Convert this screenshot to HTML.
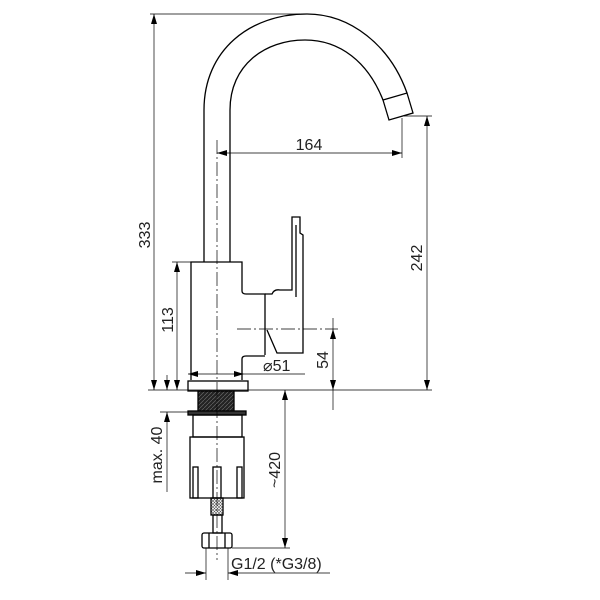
<!DOCTYPE html>
<html><head><style>body{margin:0;background:#fff}svg{display:block}</style></head><body>
<svg width="600" height="600" viewBox="0 0 600 600" xmlns="http://www.w3.org/2000/svg" font-family="Liberation Sans, sans-serif">
<defs>
<marker id="a" viewBox="0 0 10 6" refX="10" refY="3" markerWidth="10" markerHeight="6" orient="auto-start-reverse" markerUnits="userSpaceOnUse"><path d="M0,0 L10,3 L0,6 z" fill="#000"/></marker>
<pattern id="k" width="4" height="4" patternUnits="userSpaceOnUse"><rect width="4" height="4" fill="#222"/><path d="M0,4 L4,0" stroke="#666" stroke-width="0.7"/></pattern>
<pattern id="h" width="3" height="3" patternUnits="userSpaceOnUse"><path d="M0,3 L3,0 M0,0 L3,3" stroke="#555" stroke-width="0.6"/></pattern>
</defs>
<g fill="none" stroke="#000" stroke-width="1.3">
<path d="M204,262 V110 C204,50 250,14 307,14 C350,14 390,45 407,93"/>
<path d="M230,262 V110 C230,65 265,40 305,40 C340,40 368,62 383,100"/>
<path d="M383,100 L407,93 L413,113 L389,120 Z"/>
<path d="M191,380 V262 H242 V291 Q242,294 246,294 H265 V355"/>
<path d="M242,380 V359 Q242,356 246,356 H265"/>
<path d="M265,294 H272 Q274,289 280,290 H292 V217 H300 V233 L303,235 V353 H277 L267,330"/>
<line x1="296" y1="225" x2="296" y2="297"/>
<rect x="188" y="381" width="60" height="10"/>
<rect x="198" y="391" width="36" height="21" fill="url(#k)"/>
<rect x="188" y="411" width="58" height="4" fill="#333"/>
<rect x="193" y="415" width="49" height="22"/>
<rect x="190" y="437" width="54" height="61"/>
<rect x="193" y="467" width="5" height="31"/>
<rect x="213" y="467" width="8" height="31"/>
<rect x="237" y="467" width="5" height="31"/>
<rect x="211" y="498" width="12" height="17" fill="url(#h)"/>
<rect x="213" y="515" width="9" height="18"/>
<rect x="202" y="533" width="30" height="15" rx="2"/>
<line x1="209" y1="533" x2="209" y2="548"/><line x1="225" y1="533" x2="225" y2="548"/>
</g>
<g fill="none" stroke="#000" stroke-width="0.7">
<line x1="217" y1="140" x2="217" y2="560" stroke-dasharray="14,3,2,3"/>
<line x1="237" y1="329" x2="338" y2="329" stroke-dasharray="14,3,2,3"/>
<line x1="150" y1="14" x2="300" y2="14"/>
<line x1="148" y1="390" x2="432" y2="390"/>
<line x1="404" y1="116" x2="432" y2="116"/>
<line x1="402" y1="118" x2="402" y2="158"/>
<line x1="172" y1="262" x2="191" y2="262"/>
<line x1="160" y1="412" x2="188" y2="412"/>
<line x1="232" y1="548" x2="290" y2="548"/>
<line x1="206" y1="548" x2="206" y2="580"/>
<line x1="228" y1="548" x2="228" y2="580"/>
<line x1="154" y1="14" x2="154" y2="390" marker-start="url(#a)" marker-end="url(#a)"/>
<line x1="217" y1="153" x2="402" y2="153" marker-start="url(#a)" marker-end="url(#a)"/>
<line x1="427" y1="116" x2="427" y2="390" marker-start="url(#a)" marker-end="url(#a)"/>
<line x1="177" y1="262" x2="177" y2="390" marker-start="url(#a)" marker-end="url(#a)"/>
<line x1="188" y1="374" x2="305" y2="374"/>
<path d="M188,374 L198,371 L198,377 Z M244,374 L234,371 L234,377 Z" fill="#000" stroke="none"/>
<line x1="333" y1="318" x2="333" y2="329" />
<line x1="333" y1="329" x2="333" y2="390" marker-start="url(#a)" marker-end="url(#a)"/>
<line x1="333" y1="390" x2="333" y2="410"/>
<line x1="167" y1="375" x2="167" y2="390" marker-end="url(#a)"/>
<line x1="167" y1="412" x2="167" y2="492" marker-start="url(#a)"/>
<line x1="285" y1="390" x2="285" y2="548" marker-start="url(#a)" marker-end="url(#a)"/>
<line x1="185" y1="573" x2="206" y2="573" marker-end="url(#a)"/>
<line x1="228" y1="573" x2="330" y2="573" marker-start="url(#a)"/>
</g>
<g font-size="16" fill="#222">
<text x="309" y="150" text-anchor="middle">164</text>
<text transform="translate(150,235) rotate(-90)" text-anchor="middle">333</text>
<text transform="translate(422,258) rotate(-90)" text-anchor="middle">242</text>
<text transform="translate(173,320) rotate(-90)" text-anchor="middle">113</text>
<text transform="translate(328,360) rotate(-90)" text-anchor="middle">54</text>
<text x="263" y="371">⌀51</text>
<text transform="translate(162,455) rotate(-90)" text-anchor="middle">max. 40</text>
<text transform="translate(280,470) rotate(-90)" text-anchor="middle">~420</text>
<text x="231" y="569">G1/2 (*G3/8)</text>
</g>
</svg>
</body></html>
